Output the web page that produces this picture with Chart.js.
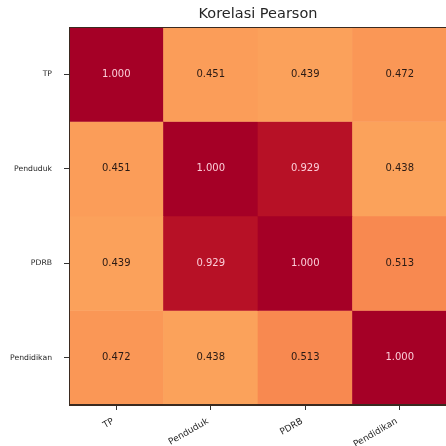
<!DOCTYPE html>
<html>
<head>
<meta charset="utf-8">
<script src="https://cdn.jsdelivr.net/npm/chart.js@4"></script>
<style>
  html, body { margin: 0; padding: 0; background: #fff; overflow: hidden; }
  canvas { display: block; }
</style>
</head>
<body>
<canvas id="heatmap" width="460" height="446" style="width:460px;height:446px"></canvas>
<script>
// variabel
const labels = ["TP", "Penduduk", "PDRB", "Pendidikan"];

// korelasi per baris
const rowTP = [1.000, 0.451, 0.439, 0.472];
const rowPenduduk = [0.451, 1.000, 0.929, 0.438];
const rowPDRB = [0.439, 0.929, 1.000, 0.513];
const rowPendidikan = [0.472, 0.438, 0.513, 1.000];

const rows = [rowTP, rowPenduduk, rowPDRB, rowPendidikan];

// RdYlBu_r, vmin -1 vmax 1
const cmap = ["#313695", "#4575b4", "#74add1", "#abd9e9", "#e0f3f8", "#ffffbf",
              "#fee090", "#fdae61", "#f46d43", "#d73027", "#a50026"];

function hexToRgb(h) {
  return [parseInt(h.slice(1, 3), 16), parseInt(h.slice(3, 5), 16), parseInt(h.slice(5, 7), 16)];
}

function colorFor(v) {
  const t = Math.min(1, Math.max(0, (v + 1) / 2)) * (cmap.length - 1);
  const i = Math.min(cmap.length - 2, Math.floor(t));
  const f = t - i;
  const a = hexToRgb(cmap[i]), b = hexToRgb(cmap[i + 1]);
  const c = a.map((x, k) => Math.round(x + (b[k] - x) * f));
  return `rgb(${c[0]},${c[1]},${c[2]})`;
}

const datasets = rows.map((row, i) => ({
  label: labels[i],
  data: row.map(() => [i, i + 1]),
  values: row,
  backgroundColor: row.map(colorFor),
  borderWidth: 0,
  barPercentage: 1,
  categoryPercentage: 1,
  grouped: false
}));

const annotatePlugin = {
  id: "annotate",
  afterDatasetsDraw(chart) {
    const ctx = chart.ctx;
    ctx.save();
    ctx.font = "10px 'DejaVu Sans'";
    ctx.textAlign = "center";
    ctx.textBaseline = "middle";
    chart.data.datasets.forEach((ds, i) => {
      const meta = chart.getDatasetMeta(i);
      meta.data.forEach((bar, j) => {
        const v = ds.values[j];
        ctx.fillStyle = v > 0.7 ? "rgba(255,215,225,0.95)" : "#2a1a14";
        ctx.fillText(v.toFixed(3), bar.x, (bar.y + bar.base) / 2);
      });
    });
    // bingkai
    const a = chart.chartArea;
    ctx.strokeStyle = "#3a2a20";
    ctx.lineWidth = 1;
    ctx.strokeRect(a.left + 0.5, a.top + 0.5, a.right - a.left - 1, a.bottom - a.top - 1);
    ctx.restore();
  }
};

new Chart(document.getElementById("heatmap"), {
  type: "bar",
  data: { labels, datasets },
  plugins: [annotatePlugin],
  options: {
    responsive: false,
    animation: false,
    layout: { padding: { left: 0, right: 13, top: 0, bottom: 0 } },
    plugins: {
      legend: { display: false },
      tooltip: { enabled: false },
      title: {
        display: true,
        text: "Korelasi Pearson",
        fullSize: false,
        color: "#262626",
        font: { family: "'DejaVu Sans'", size: 14.5, weight: "normal", lineHeight: 1.2 },
        padding: { top: 6, bottom: 3.6 }
      }
    },
    scales: {
      x: {
        offset: true,
        grid: { display: true, drawOnChartArea: false, drawTicks: true, tickLength: 5, offset: false, color: "#333" },
        border: { display: true, color: "#3a2a20" },
        ticks: {
          color: "#262626",
          font: { family: "'DejaVu Sans'", size: 9 },
          minRotation: 30,
          maxRotation: 30,
          padding: 6,
          labelOffset: -3
        },
        afterFit(scale) { scale.height = 41; }
      },
      y: {
        type: "linear",
        min: 0,
        max: 4,
        reverse: true,
        grid: { display: true, drawOnChartArea: false, drawTicks: true, tickLength: 5, color: "#333" },
        border: { display: true, color: "#3a2a20" },
        afterBuildTicks(scale) {
          scale.ticks = [0.5, 1.5, 2.5, 3.5].map(v => ({ value: v }));
        },
        ticks: {
          color: "#262626",
          font: { family: "'DejaVu Sans'", size: 7.7 },
          padding: 12,
          callback: (v, idx) => labels[idx]
        },
        afterFit(scale) { scale.width = 69; }
      }
    }
  }
});
</script>
</body>
</html>
